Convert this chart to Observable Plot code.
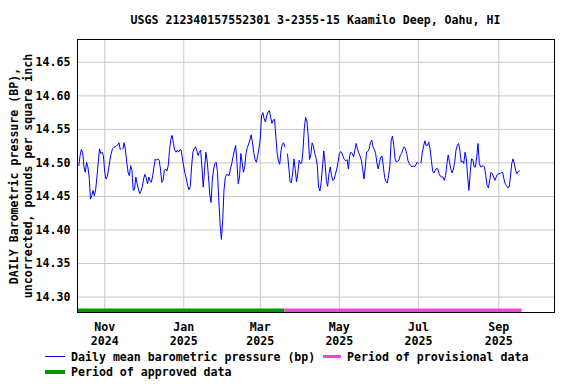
<!DOCTYPE html>
<html><head><meta charset="utf-8">
<script src="https://cdn.jsdelivr.net/npm/d3@7"></script>
<script src="https://cdn.jsdelivr.net/npm/@observablehq/plot@0.6"></script>
<style>
body{margin:0;background:#fff;}
#wrap{position:relative;width:576px;height:384px;font-family:"DejaVu Sans Mono",monospace;font-weight:bold;font-size:11.6px;color:#000;overflow:hidden;}
#title{position:absolute;left:77px;width:477px;top:12px;line-height:16px;text-align:center;white-space:pre;}
#chart{position:absolute;left:0;top:28px;}
.leg{position:absolute;line-height:16px;white-space:pre;}
.sw{position:absolute;}
</style></head>
<body><div id="wrap">
<div id="title"></div>
<div id="chart"></div>
<div id="legend"></div>
</div>
<script>
const title = "USGS 212340157552301 3-2355-15 Kaamilo Deep, Oahu, HI";
const yLabelLines = ["DAILY Barometric pressure (BP),", "uncorrected, pounds per square inch"];
const startDate = "2024-10-12";
// daily mean barometric pressure (psi), one value per day from startDate; null = missing day
const values = [
14.496,14.511,14.520,14.515,14.494,14.486,14.501,14.494,14.479,14.446,
14.451,14.459,14.451,14.460,14.479,14.501,14.521,14.514,14.516,14.511,
14.486,14.476,14.480,14.491,14.504,14.514,14.521,14.523,14.524,14.525,
14.527,14.530,14.520,null,14.521,14.530,14.519,14.501,14.486,14.481,
14.496,14.489,14.459,14.461,14.479,14.469,14.461,14.454,14.458,14.465,
14.476,14.483,14.478,14.469,14.479,14.474,14.471,14.481,14.494,14.506,
14.504,14.506,14.504,14.491,14.471,14.474,14.489,14.491,14.488,14.496,
14.519,14.535,14.541,14.529,14.519,14.516,14.519,14.516,14.520,14.519,
14.506,14.494,14.484,14.476,14.466,14.460,14.465,14.494,14.516,14.521,
14.524,14.519,14.511,14.516,14.519,14.494,14.464,14.489,14.516,14.504,
14.481,14.454,14.441,14.474,14.491,14.499,14.501,14.486,14.444,14.409,
14.386,14.414,14.459,14.478,14.483,14.482,14.481,14.491,14.499,14.509,
14.518,14.526,14.501,14.469,14.479,14.514,14.501,14.486,14.494,14.514,
14.523,14.528,14.534,14.542,14.530,14.515,14.505,14.501,14.510,14.522,
14.535,14.570,14.575,14.566,14.561,14.570,14.576,14.578,14.568,14.559,
14.564,14.565,14.540,14.515,14.503,14.498,14.518,14.528,14.530,14.524,
null,14.513,14.494,14.472,14.470,14.485,14.506,14.490,14.472,14.485,
14.504,14.499,14.500,14.520,14.552,14.568,14.562,14.540,14.505,14.512,
14.530,14.525,14.514,14.508,14.496,14.464,14.458,14.471,14.494,14.518,
14.499,14.474,14.465,14.484,14.494,14.481,14.474,14.476,14.483,14.491,
14.501,14.513,14.517,14.515,14.509,14.505,14.503,14.505,14.491,14.511,
14.516,14.514,14.509,14.519,14.529,14.521,14.515,14.510,14.504,14.491,
14.476,14.494,14.516,14.517,14.521,14.530,14.534,14.524,14.520,14.514,
14.500,14.491,14.501,14.509,14.510,14.494,14.478,14.472,14.470,14.481,
14.496,14.534,14.540,14.526,14.506,14.501,14.503,14.504,14.511,14.514,
14.520,14.524,14.521,14.514,14.503,14.499,14.496,14.494,14.496,14.494,
14.497,14.501,14.499,null,14.500,14.515,14.525,14.533,14.526,14.526,
14.531,14.521,14.504,14.488,14.485,14.489,14.492,14.491,14.484,14.480,
14.479,14.479,14.474,14.481,14.499,14.512,14.501,14.491,14.485,14.491,
14.501,14.519,14.526,14.529,14.519,14.501,14.503,14.499,14.516,14.506,
14.479,14.459,14.486,14.506,14.505,14.494,14.494,14.509,14.529,14.499,
14.494,14.495,14.496,14.494,14.481,14.466,14.463,14.474,14.486,14.484,
14.479,14.474,14.479,14.483,14.484,14.484,14.486,14.486,14.476,14.469,
14.466,14.463,14.464,14.479,14.499,14.506,14.499,14.489,14.484,14.487,
14.488
];
const periodNames = ["Period of approved data", "Period of provisional data"];
const periodStarts = ["2024-10-11", "2025-03-20"];
const periodEnds = ["2025-03-20", "2025-09-19"];
const periodColors = ["#009900", "#ee44dd"];
const xDomainDates = ["2024-10-11", "2025-10-14"];
const yDomain = [14.277, 14.684];
const xTickDates = ["2024-11-01","2025-01-01","2025-03-01","2025-05-01","2025-07-01","2025-09-01"];
const xTickLabels = ["Nov\n2024","Jan\n2025","Mar\n2025","May\n2025","Jul\n2025","Sep\n2025"];
const yTicks = [14.30,14.35,14.40,14.45,14.50,14.55,14.60,14.65];
const yTickLabels = ["14.30","14.35","14.40","14.45","14.50","14.55","14.60","14.65"];
const lineLegend = "Daily mean barometric pressure (bp)";

const parse = d3.utcParse("%Y-%m-%d");
const t0 = parse(startDate);
const data = values.map((v, i) => ({date: d3.utcDay.offset(t0, i), value: v}));
const periods = periodNames.map((n, i) => ({name: n, start: parse(periodStarts[i]), end: parse(periodEnds[i]), color: periodColors[i]}));
const xTicks = xTickDates.map(parse);
const font = {fontFamily: "DejaVu Sans Mono", fontWeight: "bold", fontSize: 11.6};

document.getElementById("title").textContent = title;

const plot = Plot.plot({
  width: 576, height: 320,
  marginLeft: 77, marginRight: 22, marginTop: 11, marginBottom: 36,
  style: {fontFamily: "DejaVu Sans Mono", fontWeight: "bold", fontSize: "11.6px", background: "white", color: "black", overflow: "visible"},
  x: {type: "utc", domain: xDomainDates.map(parse)},
  y: {domain: yDomain},
  marks: [
    Plot.gridX(xTicks, {stroke: "#c8c8c8", strokeOpacity: 1}),
    Plot.gridY(yTicks, {stroke: "#c8c8c8", strokeOpacity: 1}),
    ...periods.map(p => Plot.ruleY([p], {y: () => yDomain[0], x1: "start", x2: "end", stroke: p.color, strokeWidth: 4, dy: -2})),
    Plot.line(data, {x: "date", y: "value", stroke: "#0000ff", strokeWidth: 1, style: {shapeRendering: "crispEdges"}}),
    Plot.frame({stroke: "black", strokeOpacity: 1}),
    Plot.axisX(xTicks, {tickSize: 0, tickPadding: 9, lineHeight: 1.17, label: null, ...font,
      tickFormat: d => xTickLabels[xTicks.findIndex(t => +t === +d)]}),
    Plot.axisY(yTicks, {tickSize: 0, tickPadding: 7, label: null, ...font,
      tickFormat: d => yTickLabels[yTicks.indexOf(d)]}),
    Plot.text([yLabelLines.join("\n")], {text: d => d, frameAnchor: "left", rotate: -90, dx: -57, lineHeight: 1.2, textAnchor: "middle", ...font, fill: "black"})
  ]
});
document.getElementById("chart").appendChild(plot);

// legend
const leg = document.getElementById("legend");
function add(cls, style, text) {
  const el = document.createElement("div");
  el.className = cls;
  Object.assign(el.style, style);
  if (text) el.textContent = text;
  leg.appendChild(el);
}
add("sw", {left: "45px", top: "356px", width: "20px", height: "1px", background: "#0000ff"});
add("leg", {left: "71px", top: "348.5px"}, lineLegend);
add("sw", {left: "323px", top: "355px", width: "18px", height: "3px", background: periods[1].color});
add("leg", {left: "347px", top: "348.5px"}, periods[1].name);
add("sw", {left: "45px", top: "370px", width: "20px", height: "4px", background: periods[0].color});
add("leg", {left: "71px", top: "364px"}, periods[0].name);
</script>
</body></html>
